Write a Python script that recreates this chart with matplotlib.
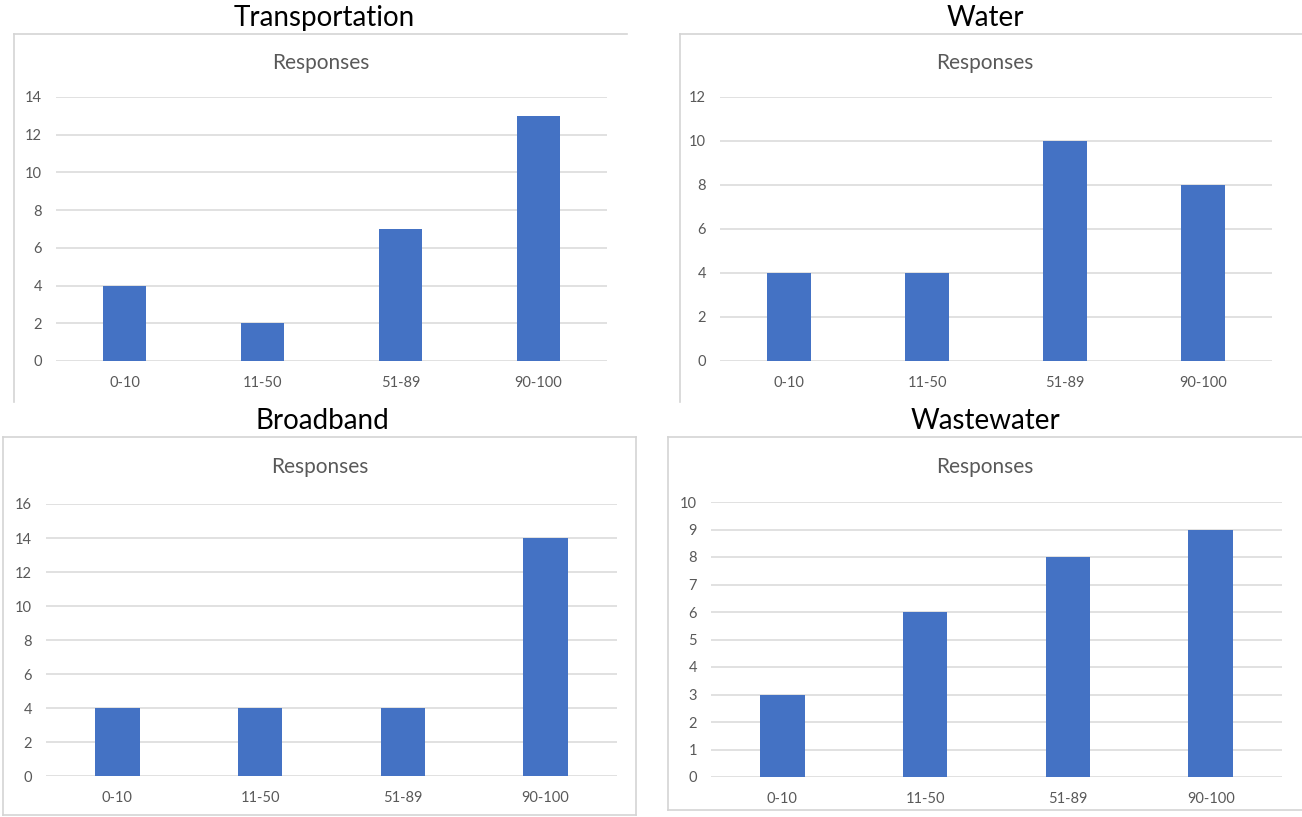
import matplotlib
matplotlib.use("Agg")
import matplotlib.pyplot as plt

# ---- data ----
categories = ["0-10", "11-50", "51-89", "90-100"]
transportation = [4, 2, 7, 13]
water = [4, 4, 10, 8]
broadband = [4, 4, 4, 14]
wastewater = [3, 6, 8, 9]

panel_titles = ["Transportation", "Water", "Broadband", "Wastewater"]
chart_title = "Responses"

W, H = 1302, 817
DPI = 100
BAR = "#4472C4"
GRID = "#D9D9D9"
TXT = "#595959"

plt.rcParams["font.family"] = ["Lato", "DejaVu Sans"]

fig = plt.figure(figsize=(W / DPI, H / DPI), dpi=DPI)
fig.patch.set_facecolor("white")


def frac_box(x0, y0, x1, y1):
    """pixel box (top-left origin) -> figure fraction [l, b, w, h]"""
    return [x0 / W, 1 - y1 / H, (x1 - x0) / W, (y1 - y0) / H]


def border(x0, y0, x1, y1, sides="ltrb"):
    l, b, w, h = frac_box(x0, y0, x1, y1)
    kw = dict(transform=fig.transFigure, color="#D4D4D4", lw=1.2, zorder=0)
    if "t" in sides:
        fig.add_artist(plt.Line2D([l, l + w], [b + h, b + h], **kw))
    if "b" in sides:
        fig.add_artist(plt.Line2D([l, l + w], [b, b], **kw))
    if "l" in sides:
        fig.add_artist(plt.Line2D([l, l], [b, b + h], **kw))
    if "r" in sides:
        fig.add_artist(plt.Line2D([l + w, l + w], [b, b + h], **kw))


def panel(values, ymax, ystep, plot_px, title_xy, resp_xy, name):
    ax = fig.add_axes(frac_box(*plot_px))
    x = range(len(categories))
    ax.bar(x, values, width=0.313, color=BAR, zorder=3)
    ax.set_xlim(-0.5, len(categories) - 0.5)
    ax.set_ylim(0, ymax)
    ax.set_yticks(range(0, ymax + 1, ystep))
    ax.set_xticks(list(x))
    ax.set_xticklabels(categories)
    for s in ax.spines.values():
        s.set_visible(False)
    ax.grid(axis="y", color=GRID, lw=1.1, zorder=0)
    ax.set_axisbelow(True)
    ax.tick_params(axis="both", length=0, colors=TXT, labelsize=10.5)
    ax.tick_params(axis="y", pad=10)
    ax.tick_params(axis="x", pad=11)
    ax.patch.set_alpha(0)
    fig.text(title_xy[0] / W, 1 - title_xy[1] / H, name, ha="center",
             va="center", fontsize=20, color="black")
    fig.text(resp_xy[0] / W, 1 - resp_xy[1] / H, chart_title, ha="center",
             va="center", fontsize=15, color=TXT)


# chart frames
border(14, 34, 627, 402, sides="tl")
border(680, 34, 1310, 402, sides="tl")
border(3, 437, 636, 815)
border(668, 437, 1310, 810, sides="tlb")

panel(transportation, 14, 2, (56, 97, 607, 361), (324, 18), (321, 63),
      panel_titles[0])
panel(water, 12, 2, (720, 97, 1272, 361), (985, 18), (985, 63),
      panel_titles[1])
panel(broadband, 16, 2, (46, 504, 617, 776), (322, 421), (320, 467),
      panel_titles[2])
panel(wastewater, 10, 1, (711, 502, 1282, 777), (985, 421), (985, 467),
      panel_titles[3])

fig.savefig("out.png", dpi=DPI, facecolor="white")
